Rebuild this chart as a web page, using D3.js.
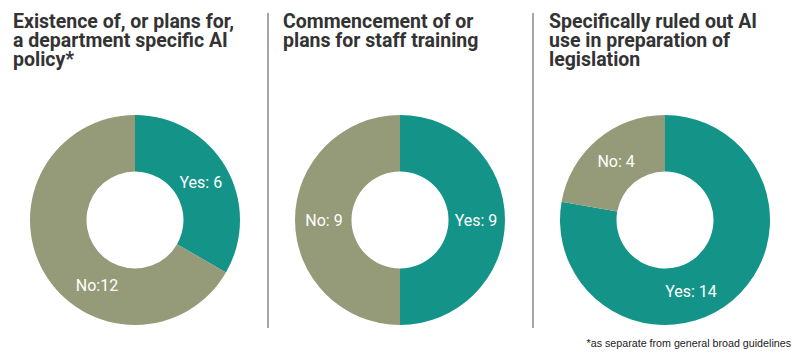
<!DOCTYPE html>
<html>
<head>
<meta charset="utf-8">
<script src="https://cdn.jsdelivr.net/npm/d3@7"></script>
<style>
  html, body { margin: 0; padding: 0; background: #fff; }
  svg { display: block; }
</style>
</head>
<body>
<svg id="chart" width="800" height="358"></svg>
<script>
// ---- data ----
const titles = [
  ["Existence of, or plans for,", "a department specific AI", "policy*"],
  ["Commencement of or", "plans for staff training"],
  ["Specifically ruled out AI", "use in preparation of", "legislation"]
];
const categories = ["Yes", "No"];
const yesValues = [6, 9, 14];
const noValues = [12, 9, 4];
const labelSeparators = [[": ", ":"], [": ", ": "], [": ", ": "]];
const footnote = "*as separate from general broad guidelines";

// ---- layout ----
const W = 800, H = 358;
const svg = d3.select("#chart");
const color = d3.scaleOrdinal().domain(categories).range(["#149488", "#959b78"]);
const centersX = [135, 400, 665];
const titleX = [13, 283, 549];
const cy = 220, outerR = 105, innerR = 48.5;

const pie = d3.pie().sort(null).value(d => d.value);
const arc = d3.arc().innerRadius(innerR).outerRadius(outerR);
const labelR = 76;

titles.forEach((lines, i) => {
  const g = svg.append("g");
  // title lines
  lines.forEach((ln, k) => {
    g.append("text")
      .attr("x", titleX[i])
      .attr("y", 28 + k * 19)
      .attr("font-family", "Roboto, sans-serif")
      .attr("font-weight", 700)
      .attr("font-size", 19.5)
      .attr("fill", "#333333")
      .text(ln);
  });

  const data = categories.map((c, j) => ({ cat: c, value: j === 0 ? yesValues[i] : noValues[i] }));
  const arcs = pie(data);
  const dg = g.append("g").attr("transform", `translate(${centersX[i]},${cy})`);
  dg.selectAll("path").data(arcs).enter().append("path")
    .attr("d", arc)
    .attr("fill", d => color(d.data.cat));

  dg.selectAll("text.lbl").data(arcs).enter().append("text")
    .attr("class", "lbl")
    .attr("transform", d => {
      let a = (d.startAngle + d.endAngle) / 2;
      if (d.endAngle - d.startAngle > Math.PI) a = (a + Math.PI) / 2;
      return `translate(${labelR * Math.sin(a)},${-labelR * Math.cos(a)})`;
    })
    .attr("text-anchor", "middle")
    .attr("dominant-baseline", "central")
    .attr("font-family", "Roboto, sans-serif")
    .attr("font-size", 16)
    .attr("fill", "#ffffff")
    .text((d, j) => d.data.cat + labelSeparators[i][j] + d.data.value);
});

// separators
[268, 533].forEach(x => {
  svg.append("line")
    .attr("x1", x).attr("x2", x)
    .attr("y1", 13).attr("y2", 328)
    .attr("stroke", "#8a8a8a")
    .attr("stroke-width", 1.5);
});

// footnote
svg.append("text")
  .attr("x", 791).attr("y", 347)
  .attr("text-anchor", "end")
  .attr("font-family", "Liberation Sans, Arial, sans-serif")
  .attr("font-size", 10.7)
  .attr("fill", "#222222")
  .text(footnote);
</script>
</body>
</html>
